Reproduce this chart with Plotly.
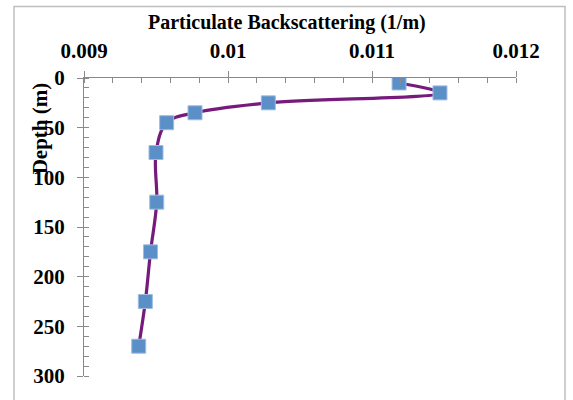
import plotly.graph_objects as go

# Data
depth_m = [5, 15, 25, 35, 45, 75, 125, 175, 225, 270]
backscatter = [0.011188, 0.011472, 0.010280, 0.009771, 0.009574,
               0.009500, 0.009505, 0.009462, 0.009426, 0.009380]
x_ticks = [0.009, 0.010, 0.011, 0.012]
x_tick_text = ["0.009", "0.01", "0.011", "0.012"]
y_ticks = [0, 50, 100, 150, 200, 250, 300]

FONT = "Liberation Serif"
AX = "#898989"

fig = go.Figure()
fig.add_trace(go.Scatter(
    x=backscatter, y=depth_m, mode="lines+markers",
    line=dict(color="#761A7C", width=3.2, shape="spline", smoothing=1.0),
    marker=dict(symbol="square", size=14, color="#5B8FC8",
                line=dict(color="#9DBCE0", width=1)),
    showlegend=False, hoverinfo="skip"))
# empty trace to register the overlay axes (inside part of the cross ticks)
fig.add_trace(go.Scatter(x=[], y=[], xaxis="x2", yaxis="y2", showlegend=False))

fig.update_layout(
    width=573, height=400,
    margin=dict(l=84, r=57, t=78, b=20),
    paper_bgcolor="white", plot_bgcolor="white",
    font=dict(family=FONT, color="black"),
    xaxis=dict(range=[0.009, 0.012], side="top", tickvals=x_ticks, ticktext=x_tick_text,
               showgrid=False, zeroline=False, showline=True, linecolor=AX, linewidth=1,
               ticks="outside", ticklen=6, tickcolor=AX, tickwidth=1,
               minor=dict(ticks="inside", ticklen=5, dtick=0.0002, tickcolor=AX, showgrid=False),
               tickfont=dict(family=FONT, size=21, color="black", weight="bold"),
               ticklabelstandoff=5, anchor="y"),
    yaxis=dict(range=[300, 0], tickvals=y_ticks,
               showgrid=False, zeroline=False, showline=True, linecolor=AX, linewidth=1,
               ticks="outside", ticklen=6, tickcolor=AX, tickwidth=1,
               minor=dict(ticks="inside", ticklen=5, dtick=10, tickcolor=AX, showgrid=False),
               tickfont=dict(family=FONT, size=21, color="black", weight="bold"),
               ticklabelstandoff=8, anchor="x"),
    xaxis2=dict(range=[0.009, 0.012], overlaying="x", side="top", anchor="y2",
                tickvals=x_ticks, showticklabels=False, showgrid=False, zeroline=False,
                showline=False, ticks="inside", ticklen=5, tickcolor=AX),
    yaxis2=dict(range=[300, 0], overlaying="y", side="left", anchor="x2",
                tickvals=y_ticks, showticklabels=False, showgrid=False, zeroline=False,
                showline=False, ticks="inside", ticklen=5, tickcolor=AX),
    shapes=[dict(type="rect", xref="paper", yref="paper",
                 x0=(14 - 84) / 432, x1=(565 - 84) / 432,
                 y0=(380 - 410) / 302, y1=(380 - 5.5) / 302,
                 line=dict(color="#BEBEBE", width=1.5), layer="below")],
    annotations=[
        dict(text="<b>Particulate Backscattering (1/m)</b>", xref="paper", yref="paper",
             x=(287 - 84) / 432, y=(380 - 22) / 302, xanchor="center", yanchor="middle",
             showarrow=False, font=dict(family=FONT, size=20, color="black")),
        dict(text="<b>Depth (m)</b>", xref="paper", yref="paper", textangle=-90,
             x=(40 - 84) / 432, y=(380 - 129) / 302, xanchor="center", yanchor="middle",
             showarrow=False, font=dict(family=FONT, size=21, color="black")),
    ],
)

fig.write_html("out.html")
